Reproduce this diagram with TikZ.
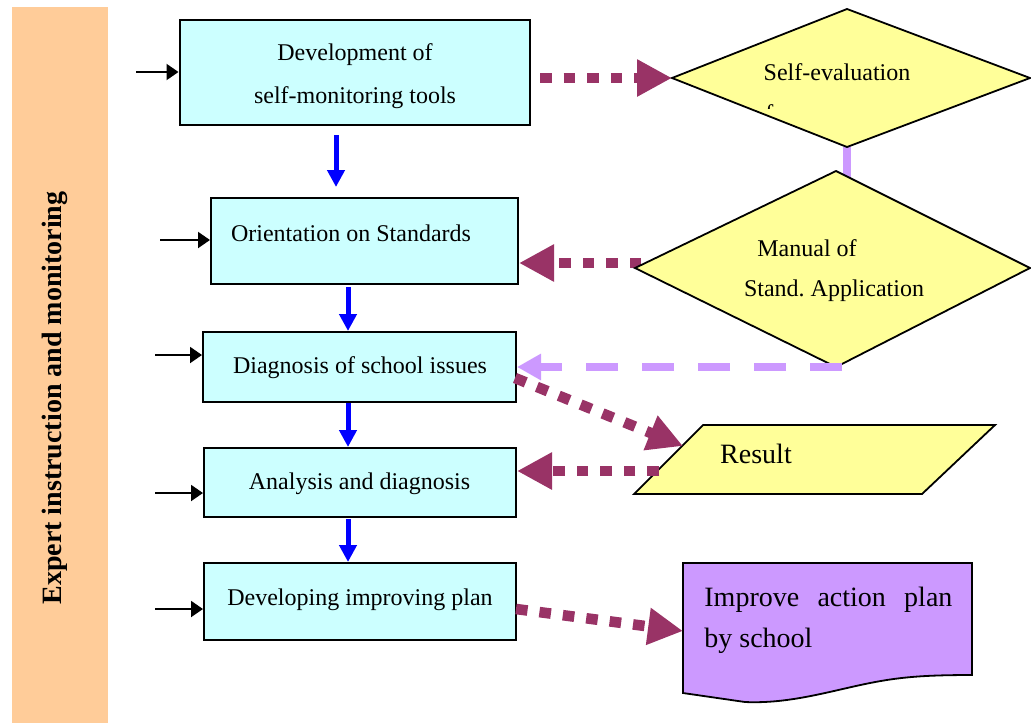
\documentclass[tikz,border=0pt]{standalone}
\usepackage{fontspec}
\setmainfont{Liberation Serif}
\usetikzlibrary{arrows.meta}
\definecolor{boxcyan}{HTML}{CCFFFF}
\definecolor{paleyellow}{HTML}{FFFF99}
\definecolor{lilac}{HTML}{CC99FF}
\definecolor{bandorange}{HTML}{FFCC99}
\definecolor{maroon}{HTML}{993366}
\definecolor{flowblue}{HTML}{0000FF}
\frenchspacing
\begin{document}
\begin{tikzpicture}[x=0.5pt,y=-0.5pt,
  box/.style={draw=black, line width=1pt, fill=boxcyan, inner sep=0pt},
  txt/.style={font=\fontsize{12}{14}\selectfont, inner sep=0pt},
  bigtxt/.style={font=\fontsize{14}{20.5}\selectfont, inner sep=0pt},
  feed/.style={draw=black, line width=1pt, -{Triangle[length=6pt,width=8pt]}},
  flow/.style={draw=flowblue, line width=2.5pt, -{Triangle[length=8.5pt,width=8.5pt]}},
  dotarrow/.style={draw=maroon, line width=5.3pt, dash pattern=on 5.8pt off 6pt, -{Triangle[length=17.5pt,width=17.5pt,fill=maroon]}},
  dasharrow/.style={draw=lilac, line width=3.6pt, dash pattern=on 16pt off 12pt, -{Triangle[length=12pt,width=12.5pt,fill=lilac]}},
  shapeline/.style={draw=black, line width=0.9pt}]
\path[use as bounding box] (0,0) rectangle (1031,723);

% side band
\path[fill=bandorange] (12,7) rectangle (108,723);
\node[font=\bfseries\fontsize{14}{16}\selectfont, rotate=90, inner sep=0pt] (side) at (55,398) {Expert instruction and monitoring};

% process boxes
\node[box, minimum width=175pt, minimum height=52.5pt] (b1) at (354.5,72.5) {};
\node[txt] (t1a) at (355,55) {Development of};
\node[txt] (t1b) at (355,98) {self-monitoring tools};
\node[box, minimum width=153.5pt, minimum height=43pt] (b2) at (364.5,241) {};
\node[txt] (t2) at (351,233) {Orientation on Standards};
\node[box, minimum width=156.5pt, minimum height=35pt] (b3) at (359.5,367) {};
\node[txt] (t3) at (360,368) {Diagnosis of school issues};
\node[box, minimum width=156pt, minimum height=34.5pt] (b4) at (360,482.5) {};
\node[txt] (t4) at (359.5,484) {Analysis and diagnosis};
\node[box, minimum width=156pt, minimum height=38.5pt] (b5) at (360,601.5) {};
\node[txt] (t5) at (360,600) {Developing improving plan};

% feed arrows from the left
\coordinate (f1) at (136,72);
\coordinate (f2) at (160,240);
\coordinate (f3) at (155,355);
\coordinate (f4) at (155,493);
\coordinate (f5) at (155,609);
\draw[feed] (f1) -- (f1 -| b1.west);
\draw[feed] (f2) -- (f2 -| b2.west);
\draw[feed] (f3) -- (f3 -| b3.west);
\draw[feed] (f4) -- (f4 -| b4.west);
\draw[feed] (f5) -- (f5 -| b5.west);

% blue flow arrows
\coordinate (u1) at (336,135); \coordinate (v1) at (336,187);
\coordinate (u2) at (348,287); \coordinate (v2) at (348,331);
\coordinate (u3) at (348,403); \coordinate (v3) at (348,447);
\coordinate (u4) at (348,519); \coordinate (v4) at (348,562);
\draw[flow] (u1) -- (v1);
\draw[flow] (u2) -- (v2);
\draw[flow] (u3) -- (v3);
\draw[flow] (u4) -- (v4);

% diamond corners
\coordinate (d1t) at (847,9);   \coordinate (d1l) at (672,78);
\coordinate (d1r) at (1030,78); \coordinate (d1b) at (847,147);
\coordinate (d2t) at (836,171); \coordinate (d2l) at (635,268);
\coordinate (d2r) at (1030,268);\coordinate (d2b) at (836,367);

% connectors that pass behind the diamonds
\coordinate (m2) at (665,263);
\draw[dotarrow] (m2) -- (m2 -| b2.east);
\coordinate (j2) at (847,178);
\draw[draw=lilac, line width=3.6pt] (d1b) -- (j2);

% diamonds
\draw[shapeline, fill=paleyellow] (d1t) -- (d1r) -- (d1b) -- (d1l) -- cycle;
\node[txt] (s1) at (837,72) {Self-evaluation};
\begin{scope}
  \clip (755,100) rectangle (774,108);
  \node[txt, anchor=base west] (s1b) at (765,121) {form};
\end{scope}
\draw[shapeline, fill=paleyellow] (d2t) -- (d2r) -- (d2b) -- (d2l) -- cycle;
\node[txt] (s2a) at (807,248) {Manual of};
\node[txt] (s2b) at (834,291) {Stand. Application};

% result parallelogram
\coordinate (r1) at (703,425); \coordinate (r2) at (995,425);
\coordinate (r3) at (922,494); \coordinate (r4) at (634,494);
\draw[shapeline, fill=paleyellow] (r1) -- (r2) -- (r3) -- (r4) -- cycle;
\node[font=\fontsize{14}{16}\selectfont, inner sep=0pt] (res) at (756,454) {Result};

% document
\coordinate (p1) at (683,563); \coordinate (p2) at (972,563);
\coordinate (p3) at (972,675); \coordinate (p4) at (683,693);
\draw[shapeline, fill=lilac] (p1) -- (p2) -- (p3)
  .. controls (925,675) and (900,677) .. (870,683)
  .. controls (830,691) and (790,704) .. (745,702)
  -- (p4) -- cycle;
\node[bigtxt, anchor=north west, text width=124pt, align=justify] (doc) at (704,587) {Improve action plan by school};

% dotted maroon connectors
\coordinate (m1) at (540,78);
\draw[dotarrow] (m1) -- (d1l);
\coordinate (m3) at (515,378); \coordinate (m3e) at (683,446);
\draw[dotarrow] (m3) -- (m3e);
\coordinate (m4) at (659,471);
\draw[dotarrow] (m4) -- (m4 -| b4.east);
\coordinate (m5) at (516,609); \coordinate (m5e) at (683,631);
\draw[dotarrow] (m5) -- (m5e);

% dashed lilac connector
\coordinate (l1) at (842,367);
\draw[dasharrow] (l1) -- (l1 -| b3.east);
\end{tikzpicture}
\end{document}
